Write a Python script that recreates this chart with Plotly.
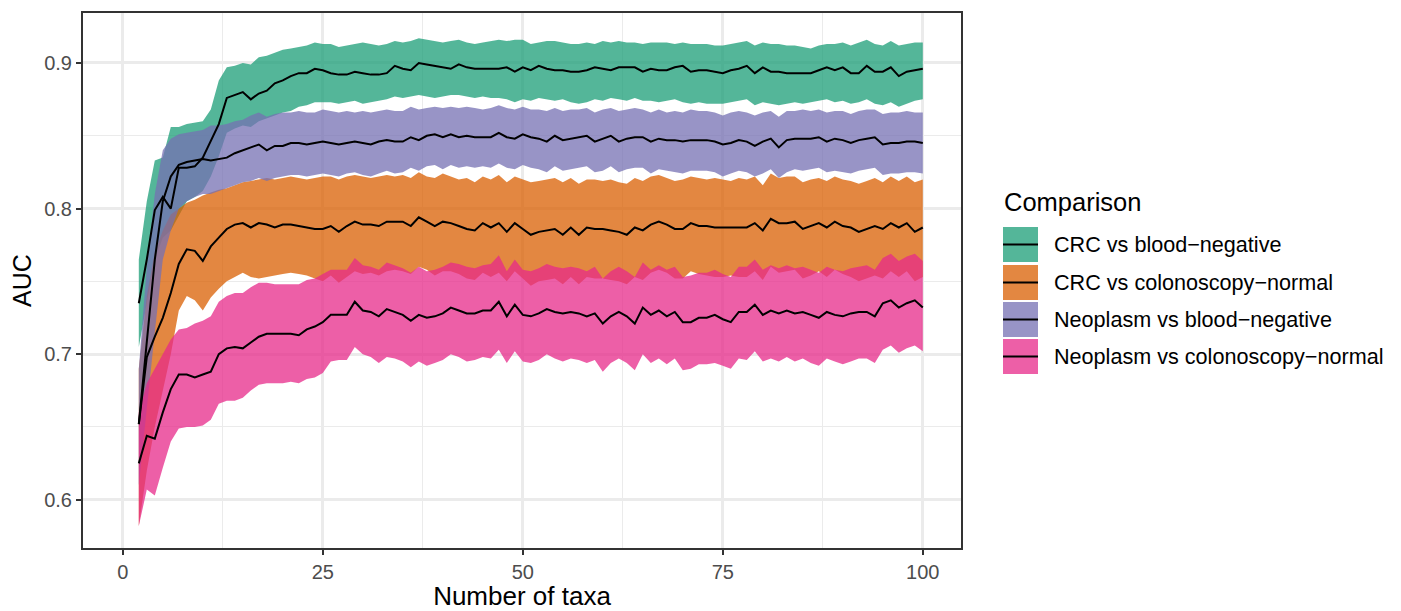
import plotly.graph_objects as go

n_taxa = list(range(2, 101))

series_names = ["CRC vs blood\u2212negative", "CRC vs colonoscopy\u2212normal",
                "Neoplasm vs blood\u2212negative", "Neoplasm vs colonoscopy\u2212normal"]

crc_blood_mean = [
    0.735, 0.765, 0.799, 0.808, 0.800, 0.828, 0.828, 0.829, 0.835, 0.846,
    0.858, 0.876, 0.878, 0.880, 0.875, 0.879, 0.881, 0.886, 0.888, 0.891,
    0.893, 0.893, 0.896, 0.895, 0.893, 0.892, 0.892, 0.894, 0.893, 0.892,
    0.892, 0.893, 0.898, 0.896, 0.895, 0.900, 0.899, 0.898, 0.897, 0.896,
    0.899, 0.897, 0.896, 0.896, 0.896, 0.896, 0.897, 0.894, 0.897, 0.895,
    0.898, 0.896, 0.895, 0.895, 0.894, 0.894, 0.895, 0.897, 0.896, 0.895,
    0.897, 0.897, 0.897, 0.894, 0.896, 0.895, 0.895, 0.897, 0.898, 0.894,
    0.895, 0.895, 0.894, 0.893, 0.895, 0.896, 0.898, 0.893, 0.897, 0.894,
    0.894, 0.893, 0.893, 0.893, 0.893, 0.895, 0.897, 0.895, 0.897, 0.893,
    0.893, 0.898, 0.894, 0.894, 0.897, 0.891, 0.894, 0.895, 0.896]
crc_blood_upper = [
    0.765, 0.805, 0.833, 0.835, 0.856, 0.856, 0.858, 0.859, 0.860, 0.868,
    0.888, 0.897, 0.898, 0.900, 0.899, 0.904, 0.905, 0.907, 0.909, 0.910,
    0.911, 0.912, 0.914, 0.913, 0.913, 0.911, 0.912, 0.913, 0.914, 0.913,
    0.912, 0.913, 0.915, 0.914, 0.915, 0.917, 0.916, 0.915, 0.914, 0.915,
    0.916, 0.914, 0.913, 0.914, 0.915, 0.916, 0.915, 0.916, 0.916, 0.913,
    0.914, 0.915, 0.915, 0.914, 0.913, 0.913, 0.914, 0.913, 0.915, 0.914,
    0.915, 0.914, 0.914, 0.913, 0.914, 0.914, 0.914, 0.913, 0.914, 0.913,
    0.913, 0.913, 0.912, 0.912, 0.913, 0.914, 0.915, 0.912, 0.914, 0.913,
    0.913, 0.912, 0.912, 0.911, 0.910, 0.912, 0.913, 0.913, 0.914, 0.912,
    0.914, 0.916, 0.913, 0.912, 0.915, 0.912, 0.913, 0.914, 0.914]
crc_blood_lower = [
    0.705, 0.735, 0.765, 0.780, 0.785, 0.795, 0.805, 0.808, 0.812, 0.822,
    0.836, 0.852, 0.855, 0.857, 0.856, 0.860, 0.862, 0.864, 0.866, 0.867,
    0.870, 0.871, 0.873, 0.873, 0.873, 0.872, 0.873, 0.874, 0.872, 0.873,
    0.874, 0.875, 0.877, 0.876, 0.877, 0.878, 0.877, 0.876, 0.877, 0.878,
    0.878, 0.877, 0.876, 0.877, 0.876, 0.876, 0.875, 0.873, 0.875, 0.874,
    0.876, 0.875, 0.874, 0.875, 0.873, 0.872, 0.873, 0.875, 0.874, 0.876,
    0.875, 0.874, 0.876, 0.874, 0.874, 0.873, 0.874, 0.875, 0.873, 0.872,
    0.873, 0.872, 0.872, 0.872, 0.873, 0.874, 0.875, 0.871, 0.873, 0.872,
    0.871, 0.872, 0.873, 0.872, 0.873, 0.874, 0.875, 0.873, 0.874, 0.872,
    0.873, 0.875, 0.872, 0.871, 0.873, 0.870, 0.872, 0.874, 0.875]

crc_colo_mean = [
    0.652, 0.698, 0.712, 0.725, 0.742, 0.762, 0.772, 0.771, 0.764, 0.774,
    0.780, 0.786, 0.789, 0.790, 0.787, 0.790, 0.789, 0.787, 0.789, 0.789,
    0.788, 0.787, 0.786, 0.786, 0.788, 0.784, 0.788, 0.791, 0.789, 0.789,
    0.788, 0.791, 0.791, 0.791, 0.788, 0.794, 0.791, 0.788, 0.791, 0.790,
    0.788, 0.786, 0.785, 0.790, 0.787, 0.790, 0.784, 0.790, 0.786, 0.782,
    0.784, 0.785, 0.786, 0.782, 0.787, 0.782, 0.787, 0.786, 0.786, 0.785,
    0.784, 0.782, 0.787, 0.785, 0.789, 0.791, 0.789, 0.786, 0.786, 0.790,
    0.788, 0.788, 0.787, 0.787, 0.787, 0.787, 0.787, 0.790, 0.785, 0.793,
    0.790, 0.790, 0.791, 0.786, 0.788, 0.790, 0.787, 0.791, 0.788, 0.787,
    0.784, 0.786, 0.788, 0.786, 0.790, 0.787, 0.790, 0.784, 0.787]
crc_colo_upper = [
    0.690, 0.740, 0.770, 0.785, 0.796, 0.800, 0.804, 0.806, 0.809, 0.811,
    0.813, 0.814, 0.816, 0.818, 0.819, 0.820, 0.821, 0.820, 0.821, 0.822,
    0.821, 0.820, 0.821, 0.822, 0.822, 0.820, 0.822, 0.823, 0.822, 0.821,
    0.822, 0.823, 0.822, 0.823, 0.821, 0.825, 0.822, 0.821, 0.824, 0.822,
    0.820, 0.821, 0.818, 0.822, 0.820, 0.823, 0.818, 0.822, 0.820, 0.818,
    0.819, 0.820, 0.821, 0.818, 0.821, 0.817, 0.820, 0.820, 0.819, 0.820,
    0.818, 0.817, 0.821, 0.819, 0.822, 0.823, 0.821, 0.819, 0.820, 0.822,
    0.821, 0.820, 0.821, 0.820, 0.819, 0.821, 0.820, 0.822, 0.816, 0.824,
    0.821, 0.822, 0.822, 0.818, 0.820, 0.821, 0.819, 0.822, 0.820, 0.819,
    0.817, 0.819, 0.821, 0.818, 0.822, 0.819, 0.822, 0.818, 0.820]
crc_colo_lower = [
    0.582, 0.620, 0.650, 0.675, 0.700, 0.730, 0.740, 0.737, 0.730, 0.739,
    0.745, 0.750, 0.753, 0.756, 0.753, 0.752, 0.753, 0.754, 0.755, 0.756,
    0.755, 0.754, 0.752, 0.750, 0.754, 0.749, 0.753, 0.757, 0.755, 0.756,
    0.754, 0.757, 0.758, 0.757, 0.755, 0.760, 0.758, 0.754, 0.757, 0.757,
    0.755, 0.752, 0.751, 0.756, 0.753, 0.756, 0.750, 0.757, 0.752, 0.747,
    0.750, 0.751, 0.752, 0.748, 0.753, 0.748, 0.753, 0.752, 0.752, 0.751,
    0.750, 0.748, 0.753, 0.751, 0.756, 0.758, 0.756, 0.752, 0.752, 0.757,
    0.755, 0.754, 0.753, 0.753, 0.754, 0.753, 0.753, 0.757, 0.751, 0.760,
    0.756, 0.757, 0.758, 0.752, 0.754, 0.757, 0.753, 0.758, 0.755, 0.753,
    0.750, 0.752, 0.754, 0.752, 0.757, 0.753, 0.757, 0.750, 0.753]

neo_blood_mean = [
    0.652, 0.710, 0.765, 0.805, 0.822, 0.830, 0.832, 0.833, 0.834, 0.833,
    0.834, 0.835, 0.838, 0.840, 0.842, 0.844, 0.840, 0.843, 0.843, 0.845,
    0.845, 0.844, 0.845, 0.846, 0.845, 0.844, 0.845, 0.846, 0.845, 0.844,
    0.846, 0.847, 0.846, 0.846, 0.849, 0.847, 0.850, 0.851, 0.849, 0.851,
    0.849, 0.850, 0.849, 0.849, 0.849, 0.852, 0.849, 0.848, 0.851, 0.849,
    0.848, 0.846, 0.850, 0.847, 0.848, 0.849, 0.850, 0.846, 0.848, 0.850,
    0.846, 0.848, 0.849, 0.849, 0.846, 0.848, 0.847, 0.847, 0.846, 0.847,
    0.847, 0.847, 0.846, 0.844, 0.845, 0.847, 0.846, 0.843, 0.846, 0.848,
    0.842, 0.847, 0.848, 0.848, 0.848, 0.849, 0.846, 0.848, 0.847, 0.845,
    0.847, 0.848, 0.849, 0.844, 0.845, 0.845, 0.846, 0.846, 0.845]
neo_blood_upper = [
    0.690, 0.760, 0.810, 0.840, 0.848, 0.851, 0.852, 0.853, 0.854, 0.857,
    0.857, 0.858, 0.860, 0.861, 0.864, 0.866, 0.863, 0.865, 0.866, 0.866,
    0.867, 0.866, 0.866, 0.868, 0.867, 0.866, 0.867, 0.866, 0.867, 0.866,
    0.867, 0.868, 0.867, 0.867, 0.870, 0.868, 0.869, 0.870, 0.869, 0.870,
    0.869, 0.870, 0.869, 0.868, 0.869, 0.871, 0.869, 0.868, 0.870, 0.868,
    0.868, 0.867, 0.869, 0.867, 0.868, 0.868, 0.869, 0.866, 0.868, 0.869,
    0.867, 0.868, 0.869, 0.868, 0.866, 0.868, 0.866, 0.867, 0.866, 0.868,
    0.867, 0.867, 0.866, 0.864, 0.866, 0.867, 0.866, 0.864, 0.866, 0.867,
    0.863, 0.867, 0.867, 0.868, 0.867, 0.868, 0.866, 0.867, 0.867, 0.865,
    0.867, 0.868, 0.868, 0.865, 0.866, 0.866, 0.867, 0.866, 0.866]
neo_blood_lower = [
    0.610, 0.660, 0.715, 0.765, 0.785, 0.800, 0.805, 0.808, 0.810, 0.810,
    0.812, 0.814, 0.816, 0.818, 0.819, 0.821, 0.819, 0.821, 0.822, 0.823,
    0.823, 0.822, 0.823, 0.824, 0.823, 0.822, 0.824, 0.825, 0.823, 0.822,
    0.824, 0.826, 0.824, 0.825, 0.828, 0.826, 0.829, 0.830, 0.827, 0.830,
    0.828, 0.829, 0.828, 0.829, 0.828, 0.831, 0.828, 0.827, 0.830, 0.828,
    0.827, 0.825, 0.829, 0.826, 0.827, 0.828, 0.829, 0.825, 0.826, 0.829,
    0.825, 0.827, 0.828, 0.828, 0.824, 0.827, 0.826, 0.825, 0.824, 0.826,
    0.826, 0.826, 0.825, 0.822, 0.824, 0.826, 0.825, 0.822, 0.824, 0.827,
    0.821, 0.825, 0.827, 0.826, 0.827, 0.828, 0.825, 0.826, 0.825, 0.824,
    0.826, 0.827, 0.828, 0.823, 0.824, 0.824, 0.825, 0.825, 0.824]

neo_colo_mean = [
    0.625, 0.644, 0.642, 0.660, 0.676, 0.686, 0.686, 0.684, 0.686, 0.688,
    0.700, 0.704, 0.705, 0.704, 0.708, 0.712, 0.714, 0.714, 0.714, 0.714,
    0.713, 0.717, 0.719, 0.722, 0.727, 0.727, 0.727, 0.736, 0.730, 0.729,
    0.726, 0.731, 0.729, 0.727, 0.723, 0.727, 0.725, 0.726, 0.728, 0.732,
    0.730, 0.728, 0.728, 0.730, 0.730, 0.736, 0.726, 0.734, 0.727, 0.726,
    0.728, 0.731, 0.729, 0.728, 0.729, 0.728, 0.726, 0.728, 0.721, 0.726,
    0.729, 0.726, 0.721, 0.732, 0.727, 0.730, 0.726, 0.729, 0.722, 0.722,
    0.725, 0.725, 0.727, 0.724, 0.722, 0.729, 0.729, 0.734, 0.727, 0.730,
    0.728, 0.730, 0.728, 0.729, 0.727, 0.725, 0.729, 0.727, 0.726, 0.728,
    0.729, 0.729, 0.726, 0.735, 0.737, 0.732, 0.735, 0.737, 0.732]
neo_colo_upper = [
    0.660, 0.680, 0.690, 0.700, 0.710, 0.717, 0.718, 0.721, 0.723, 0.726,
    0.736, 0.740, 0.742, 0.742, 0.746, 0.749, 0.749, 0.748, 0.748, 0.748,
    0.748, 0.751, 0.752, 0.755, 0.758, 0.758, 0.758, 0.766, 0.761, 0.760,
    0.758, 0.763, 0.761, 0.759, 0.756, 0.760, 0.757, 0.758, 0.760, 0.763,
    0.762, 0.760, 0.759, 0.761, 0.762, 0.768, 0.757, 0.765, 0.758, 0.757,
    0.759, 0.762, 0.760, 0.759, 0.760, 0.759, 0.757, 0.760, 0.752, 0.757,
    0.760, 0.757, 0.753, 0.763, 0.758, 0.761, 0.758, 0.760, 0.753, 0.754,
    0.756, 0.756, 0.758, 0.755, 0.753, 0.760, 0.760, 0.765, 0.758, 0.761,
    0.759, 0.761, 0.759, 0.760, 0.758, 0.756, 0.760, 0.758, 0.757, 0.759,
    0.760, 0.761, 0.758, 0.766, 0.769, 0.764, 0.767, 0.769, 0.764]
neo_colo_lower = [
    0.582, 0.607, 0.603, 0.622, 0.640, 0.649, 0.650, 0.650, 0.651, 0.655,
    0.666, 0.668, 0.668, 0.670, 0.675, 0.679, 0.680, 0.680, 0.680, 0.681,
    0.680, 0.683, 0.684, 0.687, 0.695, 0.696, 0.696, 0.705, 0.700, 0.698,
    0.694, 0.698, 0.697, 0.695, 0.691, 0.695, 0.692, 0.694, 0.696, 0.700,
    0.698, 0.695, 0.696, 0.698, 0.697, 0.703, 0.694, 0.702, 0.695, 0.694,
    0.696, 0.700, 0.697, 0.695, 0.697, 0.696, 0.694, 0.696, 0.688, 0.694,
    0.697, 0.694, 0.689, 0.700, 0.694, 0.697, 0.693, 0.697, 0.689, 0.690,
    0.693, 0.693, 0.694, 0.692, 0.690, 0.697, 0.696, 0.702, 0.695, 0.697,
    0.695, 0.698, 0.695, 0.697, 0.694, 0.692, 0.697, 0.695, 0.693, 0.695,
    0.697, 0.697, 0.694, 0.703, 0.706, 0.701, 0.704, 0.706, 0.702]

x_ticks = [0, 25, 50, 75, 100]
y_ticks = [0.6, 0.7, 0.8, 0.9]

colors = ["rgba(27,158,119,0.75)", "rgba(217,95,2,0.75)",
          "rgba(117,112,179,0.75)", "rgba(231,41,138,0.75)"]
means = [crc_blood_mean, crc_colo_mean, neo_blood_mean, neo_colo_mean]
uppers = [crc_blood_upper, crc_colo_upper, neo_blood_upper, neo_colo_upper]
lowers = [crc_blood_lower, crc_colo_lower, neo_blood_lower, neo_colo_lower]

FONT = "Liberation Sans, Arial, sans-serif"

fig = go.Figure()
for name, col, up, lo in zip(series_names, colors, uppers, lowers):
    fig.add_trace(go.Scatter(
        x=n_taxa + n_taxa[::-1], y=up + lo[::-1], fill="toself",
        fillcolor=col, line=dict(width=0), mode="lines",
        name=name, showlegend=False, hoverinfo="skip"))
for name, m in zip(series_names, means):
    fig.add_trace(go.Scatter(
        x=n_taxa, y=m, mode="lines", line=dict(color="black", width=2),
        name=name, showlegend=False))

# The page body adds an 8px offset; geometry below is in screenshot pixels.
OFF = 8
W, H = 1401 - OFF, 611 - OFF
SL, SR, ST, SB = 82, 962, 12, 549          # panel edges in screenshot pixels
L, R, T, B = SL - OFF, SR - OFF, ST - OFF, SB - OFF


def px(xs):
    return (xs - SL) / (SR - SL)


def py(ys):
    return (SB - ys) / (SB - ST)


shapes = []
annotations = []
annotations.append(dict(x=px(1002), y=py(202), xref="paper", yref="paper",
                        text="Comparison", showarrow=False, xanchor="left",
                        yanchor="middle", font=dict(family=FONT, size=25.5, color="black")))
key_tops = [227, 265, 302, 339]
for name, col, top in zip(series_names, colors, key_tops):
    shapes.append(dict(type="rect", xref="paper", yref="paper",
                       x0=px(1003), x1=px(1038), y0=py(top), y1=py(top + 35),
                       fillcolor=col, line=dict(width=0), layer="above"))
    shapes.append(dict(type="line", xref="paper", yref="paper",
                       x0=px(1003), x1=px(1038), y0=py(top + 17.5), y1=py(top + 17.5),
                       line=dict(color="black", width=2), layer="above"))
    annotations.append(dict(x=px(1052), y=py(top + 17.5), xref="paper", yref="paper",
                            text=name, showarrow=False, xanchor="left", yanchor="middle",
                            font=dict(family=FONT, size=21.6, color="black")))
# panel border
shapes.append(dict(type="rect", xref="paper", yref="paper", x0=0, x1=1, y0=0, y1=1,
                   line=dict(color="#333333", width=2), fillcolor="rgba(0,0,0,0)",
                   layer="above"))

axis_common = dict(showline=False, zeroline=False, ticks="outside", ticklen=5,
                   tickwidth=2, tickcolor="#333333", automargin=False,
                   tickfont=dict(family=FONT, size=20, color="#4D4D4D"),
                   gridcolor="#EBEBEB", gridwidth=2.5,
                   minor=dict(showgrid=True, gridcolor="#EBEBEB", gridwidth=1.2))

fig.update_layout(
    width=W, height=H,
    margin=dict(l=L, r=W - R, t=T, b=H - B, autoexpand=False),
    paper_bgcolor="white", plot_bgcolor="white",
    showlegend=False,
    shapes=shapes, annotations=annotations,
    xaxis=dict(range=[-5.1, 104.9], tickvals=x_ticks,
               title=dict(text="Number of taxa", standoff=3,
                          font=dict(family=FONT, size=26, color="black")),
               **axis_common),
    yaxis=dict(range=[0.5662, 0.935], tickvals=y_ticks, tickformat=".1f",
               title=dict(text="AUC", standoff=8,
                          font=dict(family=FONT, size=25, color="black")),
               **axis_common),
)
fig.update_xaxes(minor=dict(tickvals=[12.5, 37.5, 62.5, 87.5]))
fig.update_yaxes(minor=dict(tickvals=[0.65, 0.75, 0.85]))

fig.write_html("out.html")
